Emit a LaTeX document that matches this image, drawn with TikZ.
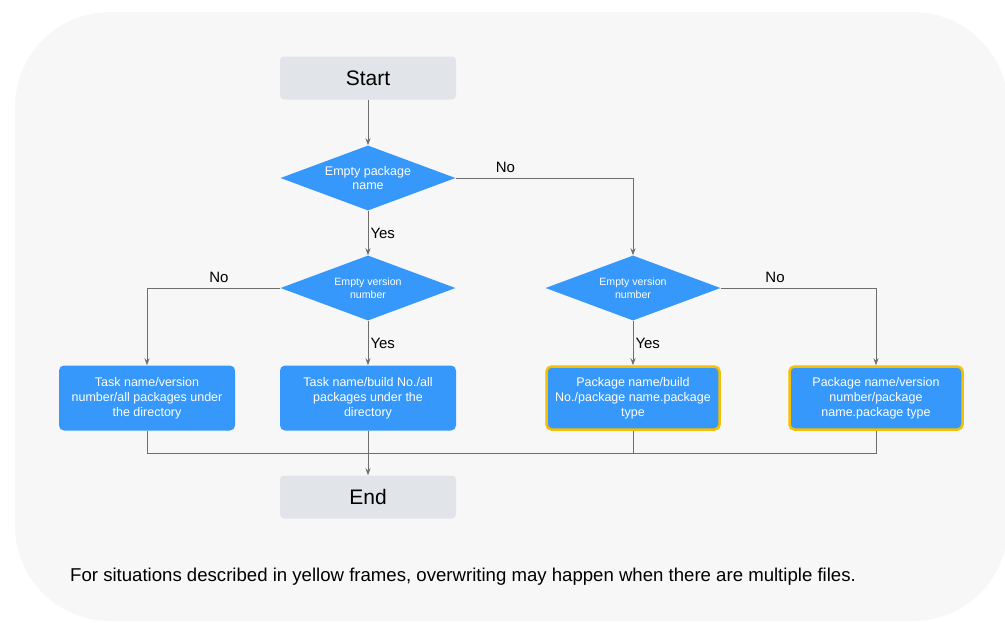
\documentclass[tikz,border=0pt]{standalone}
\usepackage{fontspec}
\setmainfont{Liberation Sans}
\usetikzlibrary{shapes.geometric,arrows.meta}

\definecolor{bggray}{HTML}{F7F7F7}
\definecolor{termgray}{HTML}{E1E4E8}
\definecolor{flowblue}{HTML}{3698FA}
\definecolor{warnyellow}{HTML}{F8BE00}
\definecolor{linegray}{HTML}{6E6E6E}

\begin{document}
\begin{tikzpicture}[x=1pt,y=-1pt,
  term/.style={fill=termgray, rounded corners=4pt, minimum width=176pt,
    minimum height=43pt, font=\fontsize{21}{25}\selectfont},
  decision/.style={diamond, fill=flowblue, text=white, aspect=2.7, inner sep=0pt,
    minimum width=175pt, minimum height=65pt, align=center},
  task/.style={fill=flowblue, text=white, rounded corners=5pt, minimum width=176pt,
    minimum height=65pt, align=center, font=\fontsize{12.5}{15}\selectfont},
  warn/.style={task, draw=warnyellow, line width=2.5pt, minimum width=173pt,
    minimum height=63pt},
  flow/.style={draw=linegray, line width=1pt, -{Stealth[length=7pt,width=5pt]}},
  link/.style={draw=linegray, line width=1pt},
  lbl/.style={font=\fontsize{15}{18}\selectfont, inner sep=2pt}
]

  \useasboundingbox (0,0) rectangle (1005,622);
  \fill[bggray, rounded corners=95pt] (15,12) rectangle (1008,621);

  % terminals and decisions
  \node[term] (start) at (368,78) {Start};
  \node[decision, font=\fontsize{12.5}{14}\selectfont] (pkg) at (368,178) {Empty package\\name};
  \node[decision, font=\fontsize{10.6}{13}\selectfont] (verl) at (368,288) {Empty version\\number};
  \node[decision, font=\fontsize{10.6}{13}\selectfont] (verr) at (633,288) {Empty version\\number};

  % results
  \node[task] (tver) at (147,398) {Task name/version\\number/all packages under\\the directory};
  \node[task] (tbuild) at (368,398) {Task name/build No./all\\packages under the\\directory};
  \node[warn] (pbuild) at (633,398) {Package name/build\\No./package name.package\\type};
  \node[warn] (pver) at (876,398) {Package name/version\\number/package\\name.package type};
  \node[term] (end) at (368,497) {End};

  \coordinate (join) at (368,453);

  \draw[flow] (start) -- (pkg);
  \draw[flow] (pkg) -- node[lbl, right] {Yes} (verl);
  \draw[flow] (pkg.east) -| node[lbl, above=3pt, pos=0.14] {No} (verr.north);
  \draw[flow] (verl.west) -| node[lbl, above=3pt, pos=0.23] {No} (tver.north);
  \draw[flow] (verl) -- node[lbl, right] {Yes} (tbuild);
  \draw[flow] (verr) -- node[lbl, right] {Yes} (pbuild);
  \draw[flow] (verr.east) -| node[lbl, above=3pt, pos=0.175] {No} (pver.north);

  % merge to end
  \draw[link] (tver.south) |- (join);
  \draw[link] (pver.south) |- (join);
  \draw[link] (pbuild.south) -- (pbuild.south |- join);
  \draw[flow] (tbuild) -- (end);

  \node[anchor=west, inner sep=0pt, font=\fontsize{18.6}{22}\selectfont] (note) at (70,577)
    {For situations described in yellow frames, overwriting may happen when there are multiple files.};

\end{tikzpicture}
\end{document}
